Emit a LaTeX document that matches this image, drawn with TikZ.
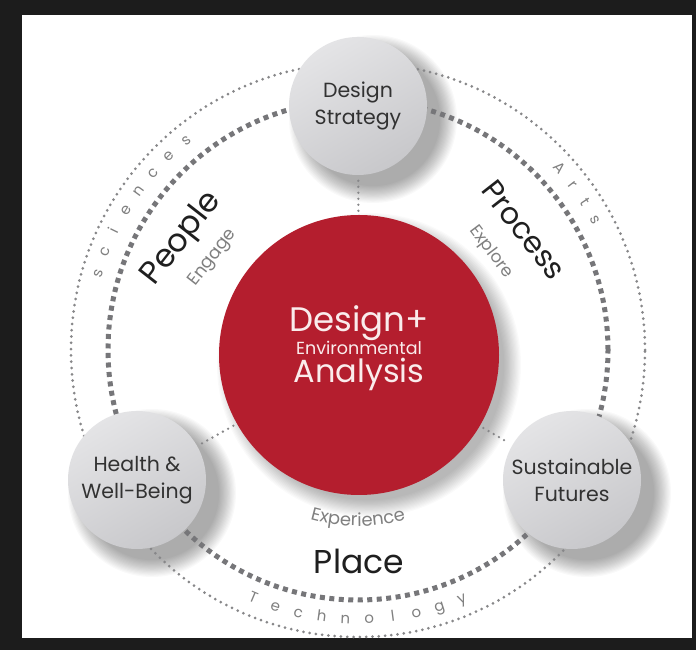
\documentclass[tikz,border=0pt]{standalone}
\usepackage{fontspec}
\setmainfont{Poppins}
\usetikzlibrary{decorations.text}
\definecolor{framebg}{RGB}{28,28,28}
\definecolor{deared}{RGB}{180,30,46}
\definecolor{ringgray}{RGB}{118,118,121}
\definecolor{dotgray}{RGB}{135,135,137}
\definecolor{labelgray}{RGB}{128,128,128}
\definecolor{circtext}{RGB}{50,50,50}
\definecolor{circlight}{RGB}{228,228,230}
\definecolor{circdark}{RGB}{200,200,203}
\definecolor{coretext}{RGB}{250,236,236}
\begin{document}
\begin{tikzpicture}[x=1pt,y=1pt,
  innerring/.style={draw=ringgray, line width=5pt, dash pattern=on 5pt off 4.5pt},
  outerring/.style={draw=dotgray, line width=3pt, line cap=round, dash pattern=on 0pt off 6.3pt},
  connector/.style={draw=dotgray, line width=2.6pt, line cap=round, dash pattern=on 0pt off 6pt, shorten >=4pt, shorten <=4pt},
  core/.style={circle, fill=deared, minimum size=280pt, inner sep=0pt},
  topic/.style={circle, minimum size=138pt, inner sep=0pt, top color=circlight, bottom color=circdark, shading angle=30, align=center, text=circtext, font=\fontsize{20.5}{27}\selectfont},
  coretxt/.style={text=coretext, inner sep=0pt, anchor=base},
  bigword/.style={text=black!88, inner sep=0pt},
  smallword/.style={text=labelgray, inner sep=0pt},
  ringletter/.style={font=\fontsize{15}{15}\selectfont, text=labelgray, inner sep=0pt, anchor=base}]
\useasboundingbox (0,0) rectangle (696,650);
\fill[framebg] (0,0) rectangle (696,650);
\fill[white] (22,12) rectangle (692,635);
\coordinate (C) at (358,300);
% soft shadows
\foreach \k in {0,...,14}{
  \fill[black,opacity=0.02] (369,285) circle ({152-1.2*\k});
  \fill[black,opacity=0.022] (373,531) circle ({84-1.2*\k});
  \fill[black,opacity=0.022] (152,157) circle ({84-1.2*\k});
  \fill[black,opacity=0.022] (587,157) circle ({84-1.2*\k});
}
% rings
\draw[outerring] (C) circle (287);
\draw[innerring] (C) circle (250);
% circles
\node[core] (core) at (359,295) {};
\node[topic] (ds) at (358,544) {Design\\Strategy};
\node[topic] (hw) at (137,170) {Health \&\\Well-Being};
\node[topic] (sf) at (572,170) {Sustainable\\Futures};
% connectors
\draw[connector] (core) -- (ds);
\draw[connector] (core) -- (hw);
\draw[connector] (core) -- (sf);
% center text
\node[coretxt, font=\fontsize{34}{34}\selectfont] (t1) at (359,318) {Design+};
\node[coretxt, font=\fontsize{17.5}{17.5}\selectfont] (t2) at (359,295) {Environmental};
\node[coretxt, font=\fontsize{32}{32}\selectfont] (t3) at (359,267) {Analysis};
% words
\node[bigword, font=\fontsize{32}{32}\selectfont, rotate=52] (people) at (182,411) {People};
\node[smallword, font=\fontsize{17.5}{17.5}\selectfont, rotate=52] (engage) at (213,392) {Engage};
\node[bigword, font=\fontsize{30}{30}\selectfont, rotate=-52] (process) at (524,420) {Process};
\node[smallword, font=\fontsize{17}{17}\selectfont, rotate=-53] (explore) at (491,398) {Explore};
\node[bigword, font=\fontsize{33}{33}\selectfont] (place) at (359,89) {Place};
\path[decorate, decoration={text along path, text align=center, text color=labelgray,
  text={|\fontsize{18}{18}\selectfont|Experience}}]
  ([shift={(-120:176)}]C) arc[start angle=-120, end angle=-60, radius=176];
% ring letters
\foreach \ch [count=\i] in {s,c,i,e,n,c,e,s}{
  \pgfmathsetmacro\ang{163.7-(\i-1)*4.9}
  \node[ringletter, rotate=\ang-90] (sci\i) at ([shift={(\ang:266.5)}]C) {\ch};
}
\foreach \ch [count=\i] in {A,r,t,s}{
  \pgfmathsetmacro\ang{42.0-(\i-1)*4.43}
  \node[ringletter, rotate=\ang-90] (arts\i) at ([shift={(\ang:266.5)}]C) {\ch};
}
\foreach \ch [count=\i] in {T,e,c,h,n,o,l,o,g,y}{
  \pgfmathsetmacro\ang{-112.9+(\i-1)*5.06}
  \node[ringletter, rotate=\ang+90] (tech\i) at ([shift={(\ang:274)}]C) {\ch};
}
\end{tikzpicture}
\end{document}
